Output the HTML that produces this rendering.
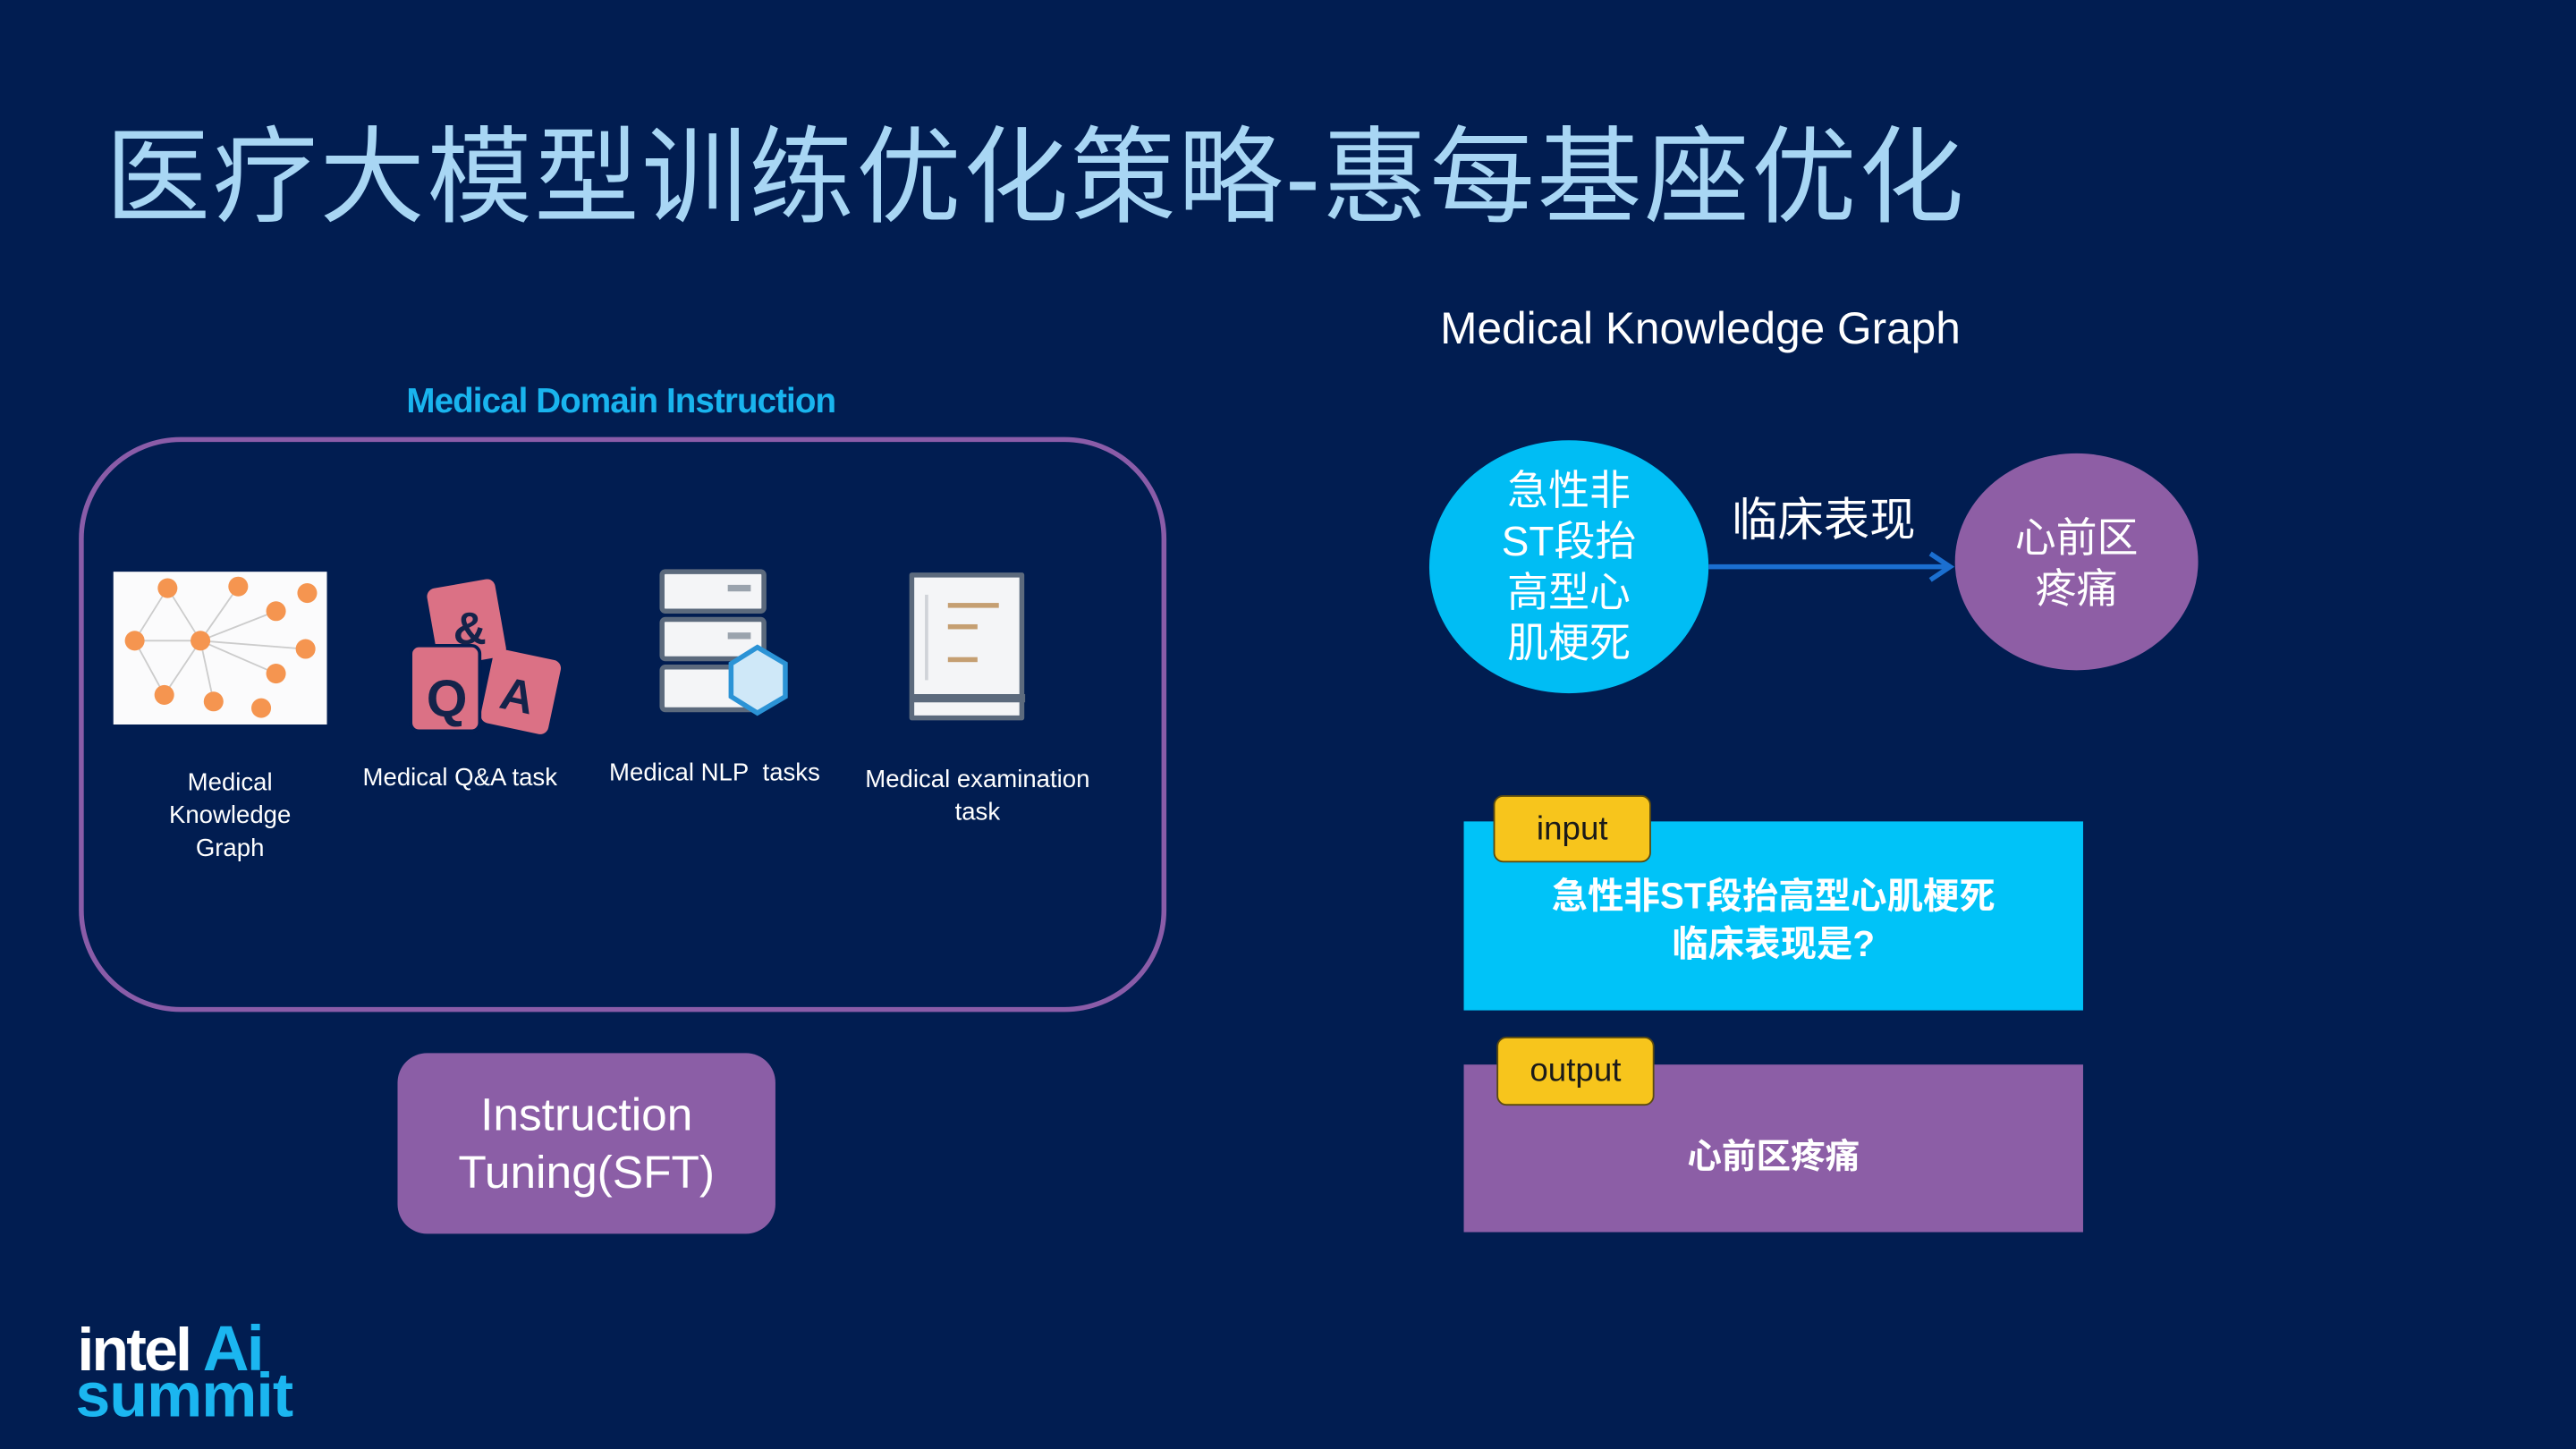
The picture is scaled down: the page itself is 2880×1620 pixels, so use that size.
<!DOCTYPE html>
<html><head><meta charset="utf-8"><style>
html,body{margin:0;padding:0;background:#011d51;overflow:hidden}
#w{position:absolute;left:0;top:0;width:1568px;height:882px;transform:scale(1.83673);transform-origin:0 0;font-family:"Liberation Sans","Noto Sans CJK SC",sans-serif;color:#fff}
.a{position:absolute}
.c{text-align:center}
</style></head><body><div id="w">
<div class="a" style="left:64px;top:68px;font-size:64px;color:#a8d6f4;white-space:nowrap;letter-spacing:1.3px;line-height:80px">医疗大模型训练优化策略-惠每基座优化</div>
<div class="a c" style="left:835px;top:185px;width:400px;font-size:27px">Medical Knowledge Graph</div>
<div class="a c" style="left:178px;top:233px;width:400px;font-size:21px;color:#19b4ee;font-weight:bold;letter-spacing:-0.5px">Medical Domain Instruction</div>
<div class="a" style="left:48px;top:266px;width:656px;height:344px;border:3px solid #8a5ca8;border-radius:62px"></div>
<svg class="a" style="left:0;top:0" width="1568" height="882">
<rect x="69" y="348" width="130" height="93" fill="#fbfbfc"/>
<g stroke="#ccc" stroke-width="1" fill="none">
<path d="M82 390 L122 390 M122 390 L102 358 M122 390 L145 357 M122 390 L168 372 M122 390 L185 395 M122 390 L100 423 M122 390 L130 427 M82 390 L102 358 M82 390 L100 423 M122 390 L168 410"/></g>
<g fill="#f59550"><circle cx="102" cy="358" r="6"/><circle cx="145" cy="357" r="6"/><circle cx="187" cy="361" r="6"/><circle cx="168" cy="372" r="6"/><circle cx="82" cy="390" r="6"/><circle cx="122" cy="390" r="6"/><circle cx="186" cy="395" r="6"/><circle cx="168" cy="410" r="6"/><circle cx="100" cy="423" r="6"/><circle cx="130" cy="427" r="6"/><circle cx="159" cy="431" r="6"/></g>
<rect x="263" y="355" width="42" height="48" rx="5" fill="#db7185" transform="rotate(-10 284 379)"/>
<rect x="296" y="398" width="42" height="46" rx="5" fill="#db7185" transform="rotate(12 317 421)"/>
<rect x="250" y="393" width="42" height="52" rx="5" fill="#db7185" stroke="#011d51" stroke-width="2"/>
<text x="286" y="392" font-size="28" font-weight="bold" fill="#14234a" text-anchor="middle" font-family="Liberation Sans">&amp;</text>
<text x="272" y="436" font-size="32" font-weight="bold" fill="#14234a" text-anchor="middle" font-family="Liberation Sans">Q</text>
<text x="315" y="433" font-size="28" font-weight="bold" fill="#14234a" text-anchor="middle" font-family="Liberation Sans" transform="rotate(12 315 423)">A</text>
<g stroke="#5c6a7d" stroke-width="3" fill="#f4f5f7">
<rect x="403" y="348" width="62" height="24" rx="2"/><rect x="403" y="377" width="62" height="24" rx="2"/><rect x="403" y="406" width="62" height="26" rx="2"/></g>
<rect x="443" y="356" width="14" height="4" fill="#9aa3ad"/><rect x="443" y="385" width="14" height="4" fill="#9aa3ad"/>
<path d="M461 394 L478 404 L478 424 L461 434 L445 424 L445 404 Z" fill="#cfe8f8" stroke="#2b93d6" stroke-width="3"/>
<path d="M555 350 H622 V437 H555 Z" fill="#f4f5f7" stroke="#5c6a7d" stroke-width="3" stroke-linejoin="round"/>
<path d="M555 425 H624" stroke="#5c6a7d" stroke-width="5"/>
<rect x="577" y="367" width="31" height="3" fill="#c59f72"/><rect x="577" y="380" width="18" height="3" fill="#c59f72"/><rect x="577" y="400" width="18" height="3" fill="#c59f72"/>
<rect x="563" y="362" width="2" height="52" fill="#d0d3d8"/>
<ellipse cx="955" cy="345" rx="85" ry="77" fill="#00bdf4"/>
<ellipse cx="1264" cy="342" rx="74" ry="66" fill="#8e5ea5"/>
<line x1="1040" y1="345" x2="1186" y2="345" stroke="#1b6fd0" stroke-width="3"/>
<path d="M1175 337 L1187 345 L1175 353" fill="none" stroke="#1b6fd0" stroke-width="3"/>
</svg>
<div class="a c" style="left:60px;top:467px;width:160px;font-size:15px;line-height:20px">Medical<br>Knowledge<br>Graph</div>
<div class="a c" style="left:205px;top:465px;width:150px;font-size:15px">Medical Q&amp;A task</div>
<div class="a c" style="left:360px;top:462px;width:150px;font-size:15px">Medical NLP&nbsp; tasks</div>
<div class="a c" style="left:515px;top:465px;width:160px;font-size:15px;line-height:20px">Medical examination<br>task</div>
<div class="a c" style="left:242px;top:641px;width:230px;height:110px;background:#8b5ea6;border-radius:18px;font-size:28px;line-height:35px;box-sizing:border-box;padding-top:20px">Instruction<br>Tuning(SFT)</div>
<div class="a c" style="left:875px;top:284px;width:160px;font-size:25px;line-height:31px">急性非<br>ST段抬<br>高型心<br>肌梗死</div>
<div class="a c" style="left:1190px;top:313px;width:148px;font-size:25px;line-height:31px">心前区<br>疼痛</div>
<div class="a c" style="left:1040px;top:295px;width:140px;font-size:28px">临床表现</div>
<div class="a" style="left:891px;top:500px;width:377px;height:115px;background:#00c3f8"></div>
<div class="a c" style="left:909px;top:484px;width:96px;height:41px;background:#f7c51c;border:1px solid #5a4a10;border-radius:6px;box-sizing:border-box;font-size:20px;line-height:40px;color:#1a1a1a">input</div>
<div class="a c" style="left:891px;top:531px;width:377px;font-size:22px;line-height:29px;font-weight:bold">急性非ST段抬高型心肌梗死<br>临床表现是?</div>
<div class="a" style="left:891px;top:648px;width:377px;height:102px;background:#8c5ea6"></div>
<div class="a c" style="left:911px;top:631px;width:96px;height:42px;background:#f7c51c;border:1px solid #5a4a10;border-radius:6px;box-sizing:border-box;font-size:20px;line-height:41px;color:#1a1a1a">output</div>
<div class="a c" style="left:891px;top:688px;width:377px;font-size:21px;font-weight:bold">心前区疼痛</div>
<div class="a" style="left:47px;top:804px;font-size:37px;font-weight:bold;letter-spacing:-1.5px;line-height:36px"><span style="color:#fff">intel</span><span style="color:#1bb6f0;font-size:39px"> Ai</span></div>
<div class="a" style="left:46px;top:832px;font-size:38px;font-weight:bold;letter-spacing:-0.5px;line-height:36px;color:#1bb6f0">summit</div>
</div></body></html>
